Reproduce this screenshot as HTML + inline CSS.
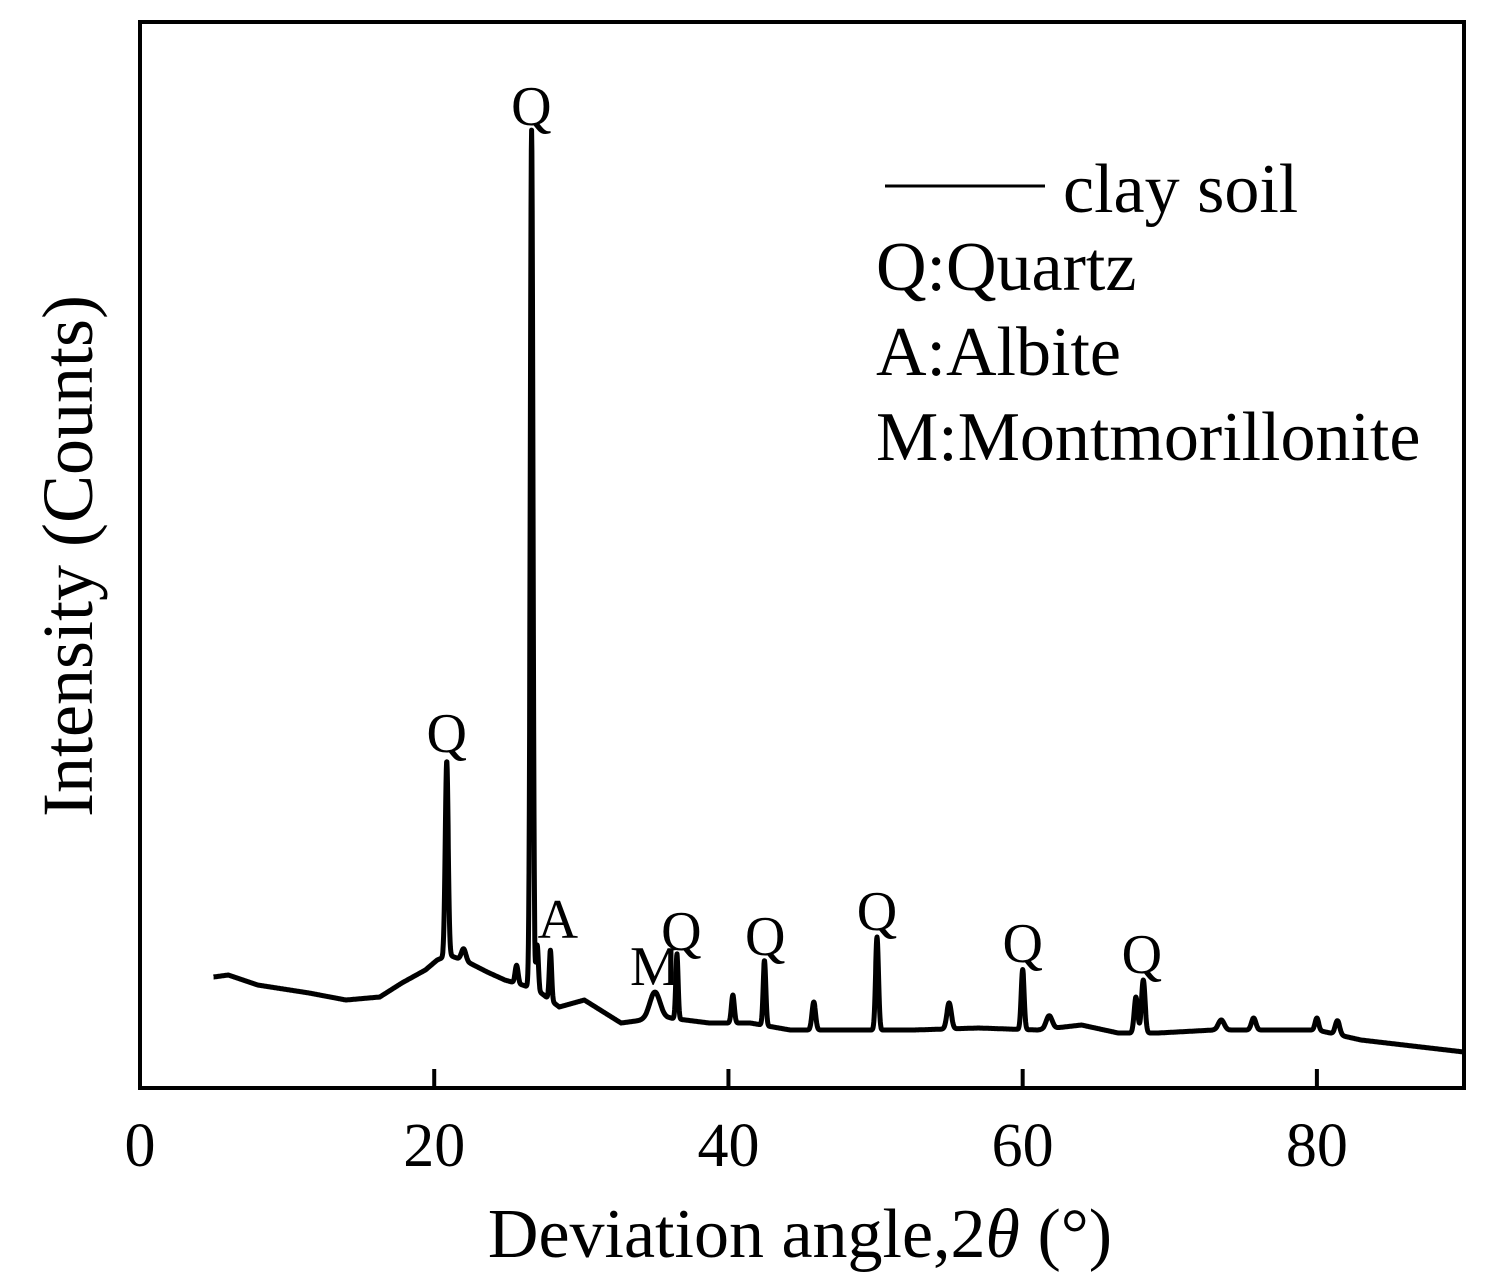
<!DOCTYPE html>
<html><head><meta charset="utf-8"><style>
body{margin:0;background:#fff;}
svg{display:block;font-family:"Liberation Serif",serif;}
</style></head><body>
<svg id="chart" width="1488" height="1283" viewBox="0 0 1488 1283" xmlns="http://www.w3.org/2000/svg">
<rect x="140" y="22" width="1324" height="1066" fill="none" stroke="#000" stroke-width="4"/>
<g id="xticks"></g>
<path id="trace" fill="none" stroke="#000" stroke-width="5" stroke-linejoin="round"/>
<g id="peaklabels" font-size="56" text-anchor="middle"></g>
<g>
<line x1="885" y1="186" x2="1045" y2="186" stroke="#000" stroke-width="3"/>
<text x="1063" y="212" font-size="70">clay soil</text>
<text x="876" y="290" font-size="70">Q:Quartz</text>
<text x="876" y="375" font-size="70">A:Albite</text>
<text x="876" y="460" font-size="70">M:Montmorillonite</text>
</g>
<text x="800" y="1257" font-size="70" text-anchor="middle">Deviation angle,2<tspan font-style="italic">θ</tspan> (°)</text>
<text transform="translate(92,556) rotate(-90)" font-size="72" text-anchor="middle">Intensity (Counts)</text>
</svg>
<script>
const xTicks=[0,20,40,60,80];
const baseAngles=[5,6,8,11.5,14,16.3,17.8,19.4,20.2,21,22.4,23.6,24.8,26,27,28.5,30.2,32.7,34.2,36,38.7,41.5,44.2,48,52.6,57,61,64,66.5,69.2,73,77,80,83,90];
const baseCounts=[111,113,103,95,88,91,105,118,128,133,125,116,108,103,98,81,88,65,68,70,65,65,58,58,58,60,58,63,55,55,58,58,58,48,36];
const peakAngles=[20.85,22.0,25.6,26.62,27.0,27.9,35.0,36.5,40.3,42.45,45.8,50.1,55.0,60.0,61.8,67.7,68.2,73.5,75.7,80.0,81.4];
const peakHeights=[195,12,18,858,45,50,27,65,28,65,28,93,26,60,13,36,53,10,12,12,14];
const peakWidths=[0.1,0.15,0.1,0.09,0.08,0.08,0.35,0.08,0.1,0.09,0.12,0.1,0.15,0.1,0.2,0.12,0.12,0.2,0.15,0.12,0.15];
const labelAngles=[26.6,20.85,28.4,35.0,36.8,42.5,50.1,60.0,68.1];
const labelText=["Q","Q","A","M","Q","Q","Q","Q","Q"];
const labelCounts=[963,336,150,103,138,133,158,126,115];

const X0=140,X1=1464,XMAX=90,Y0=1088,Y1=22,YMAX=1066;
const sx=v=>X0+(X1-X0)*v/XMAX;
const sy=v=>Y0-(Y0-Y1)*v/YMAX;
const NS="http://www.w3.org/2000/svg";

const tg=document.getElementById('xticks');
xTicks.forEach(t=>{
  const l=document.createElementNS(NS,'line');
  
  
  l.setAttribute('x1',sx(t));l.setAttribute('x2',sx(t));
  l.setAttribute('y1',Y0);l.setAttribute('y2',Y0-19);
  l.setAttribute('stroke','#000');l.setAttribute('stroke-width','4');
  tg.appendChild(l);
  const tx=document.createElementNS(NS,'text');
  
  
  tx.setAttribute('x',sx(t));tx.setAttribute('y',1166);
  tx.setAttribute('font-size','62');tx.setAttribute('text-anchor','middle');
  tx.textContent=t;
  tg.appendChild(tx);
});

function base(a){
  for(let i=0;i<baseAngles.length-1;i++){
    if(a<=baseAngles[i+1]){
      const f=(a-baseAngles[i])/(baseAngles[i+1]-baseAngles[i]);
      return baseCounts[i]+f*(baseCounts[i+1]-baseCounts[i]);
    }
  }
  return baseCounts[baseCounts.length-1];
}
let d="";
for(let a=5;a<=90.001;a+=0.02){
  let v=base(a);
  for(let k=0;k<peakAngles.length;k++){
    const z=(a-peakAngles[k])/peakWidths[k];
    if(Math.abs(z)<6) v+=peakHeights[k]*Math.exp(-0.5*z*z);
  }
  d+=(d?"L":"M")+sx(a).toFixed(1)+" "+sy(v).toFixed(1);
}
document.getElementById('trace').setAttribute('d',d);

const lg=document.getElementById('peaklabels');
labelAngles.forEach((a,i)=>{
  const t=document.createElementNS(NS,'text');
  
  
  t.setAttribute('x',sx(a));t.setAttribute('y',sy(labelCounts[i]));
  t.textContent=labelText[i];
  lg.appendChild(t);
});
</script>
</body></html>
